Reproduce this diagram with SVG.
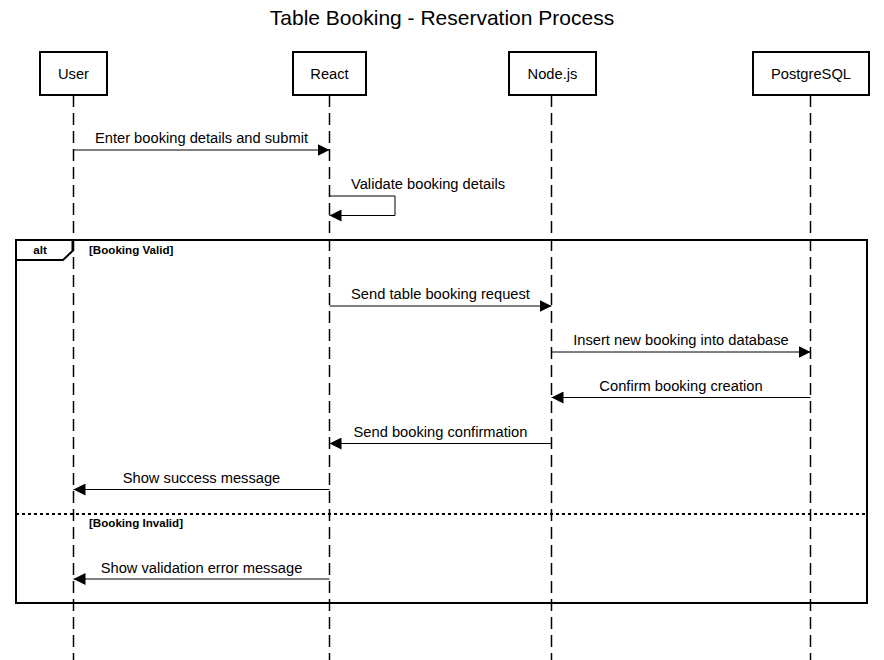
<svg xmlns="http://www.w3.org/2000/svg" width="884" height="660" viewBox="0 0 884 660">
<style>
text{font-family:"Liberation Sans",Arial,sans-serif;fill:#000}
.title{font-size:21px}
.lbl{font-size:14.7px}
.small{font-size:11.6px;font-weight:bold}
.box{fill:#fff;stroke:#000;stroke-width:2}
.life{stroke:#000;stroke-width:1.5;stroke-dasharray:12,6;fill:none}
.msg{stroke:#000;stroke-width:1;fill:none}
.frame{fill:none;stroke:#000;stroke-width:2}
.sep{stroke:#000;stroke-width:2;stroke-dasharray:3,3}
</style>
<defs>
<marker id="arr" viewBox="0 0 12 12" refX="12" refY="6" markerWidth="12" markerHeight="12" markerUnits="userSpaceOnUse" orient="auto">
<path d="M0,0 L12,6 L0,12 Z" fill="#000"/>
</marker>
</defs>
<rect width="884" height="660" fill="#fff"/>
<text class="title" x="442" y="25" text-anchor="middle">Table Booking - Reservation Process</text>

<g id="lifelines">
<line class="life" x1="73.5" y1="95" x2="73.5" y2="660"/>
<line class="life" x1="329.5" y1="95" x2="329.5" y2="660"/>
<line class="life" x1="551.5" y1="95" x2="551.5" y2="660"/>
<line class="life" x1="810.5" y1="95" x2="810.5" y2="660"/>
</g>

<g id="User"><rect class="box" x="40" y="52" width="67" height="43"/><text class="lbl" x="73.5" y="78.5" text-anchor="middle">User</text></g>
<g id="React"><rect class="box" x="293" y="52" width="73" height="43"/><text class="lbl" x="329.5" y="78.5" text-anchor="middle">React</text></g>
<g id="Nodejs"><rect class="box" x="509" y="52" width="87" height="43"/><text class="lbl" x="552.5" y="78.5" text-anchor="middle">Node.js</text></g>
<g id="PostgreSQL"><rect class="box" x="753" y="52" width="116" height="43"/><text class="lbl" x="811" y="78.5" text-anchor="middle">PostgreSQL</text></g>

<g id="alt-frame">
<rect class="frame" x="16" y="240" width="851" height="363"/>
<path class="frame" d="M16,260 L63,260 L72.5,251 L72.5,240"/>
<text class="small" x="40" y="253.5" text-anchor="middle">alt</text>
<text class="small" x="89" y="253.5">[Booking Valid]</text>
<line class="sep" x1="16" y1="514" x2="867" y2="514"/>
<text class="small" x="89" y="526.5">[Booking Invalid]</text>
</g>

<g id="connectors">
<line class="msg" x1="73.5" y1="150" x2="329.5" y2="150" marker-end="url(#arr)"/>
<text class="lbl" x="201.5" y="143" text-anchor="middle">Enter booking details and submit</text>

<path class="msg" d="M329.5,196 L395,196 L395,215.5 L329.5,215.5" marker-end="url(#arr)"/>
<text class="lbl" x="351" y="189">Validate booking details</text>

<line class="msg" x1="329.5" y1="306" x2="551.5" y2="306" marker-end="url(#arr)"/>
<text class="lbl" x="440.5" y="299" text-anchor="middle">Send table booking request</text>

<line class="msg" x1="551.5" y1="352" x2="810.5" y2="352" marker-end="url(#arr)"/>
<text class="lbl" x="681" y="345" text-anchor="middle">Insert new booking into database</text>

<line class="msg" x1="810.5" y1="397.5" x2="551.5" y2="397.5" marker-end="url(#arr)"/>
<text class="lbl" x="681" y="390.5" text-anchor="middle">Confirm booking creation</text>

<line class="msg" x1="551.5" y1="443.5" x2="329.5" y2="443.5" marker-end="url(#arr)"/>
<text class="lbl" x="440.5" y="436.5" text-anchor="middle">Send booking confirmation</text>

<line class="msg" x1="329.5" y1="489.5" x2="73.5" y2="489.5" marker-end="url(#arr)"/>
<text class="lbl" x="201.5" y="483" text-anchor="middle">Show success message</text>

<line class="msg" x1="329.5" y1="579" x2="73.5" y2="579" marker-end="url(#arr)"/>
<text class="lbl" x="201.5" y="572.5" text-anchor="middle">Show validation error message</text>
</g>
</svg>
